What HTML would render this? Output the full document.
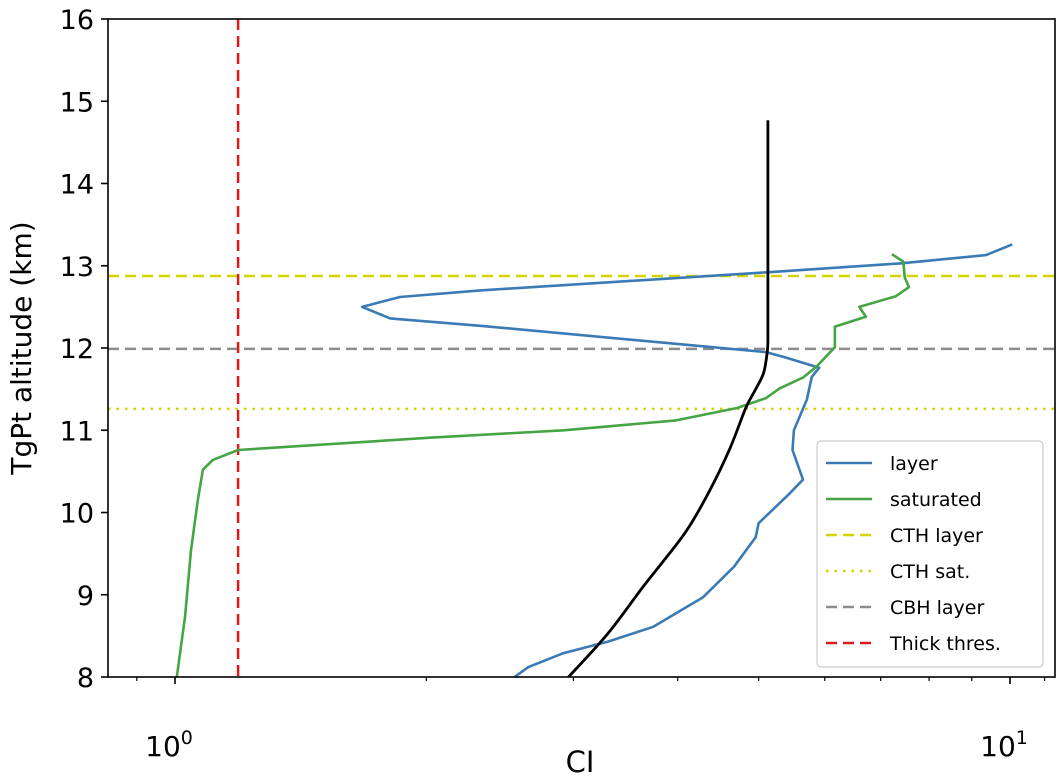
<!DOCTYPE html>
<html><head><meta charset="utf-8"><style>
html,body{margin:0;padding:0;background:#fff;}
svg{display:block;font-family:"DejaVu Sans","Liberation Sans",sans-serif;}
</style></head><body>
<svg id="chart" width="1063" height="777" viewBox="0 0 1063 777" xmlns="http://www.w3.org/2000/svg"></svg>
<script>
const yTicks=[8,9,10,11,12,13,14,15,16];
const xTickMajor=[1,10];
const xTickMajorLabels=["0","1"];
const xTickMinor=[0.9,2,3,4,5,6,7,8,9,11];
const layerCI=[10.06,9.36,7.41,5.12,2.32,1.86,1.675,1.81,2.32,5.10,5.36,5.91,5.79,5.71,5.51,5.49,5.65,5.42,5.00,4.96,4.67,4.29,3.74,3.30,2.92,2.65,2.55];
const layerAlt=[13.26,13.13,13.03,12.92,12.70,12.62,12.50,12.36,12.27,11.95,11.89,11.76,11.65,11.37,11.00,10.76,10.40,10.21,9.87,9.70,9.34,8.97,8.61,8.43,8.29,8.12,8.00];
const satCI=[7.22,7.45,7.48,7.57,7.30,6.60,6.72,6.17,6.17,5.86,5.65,5.30,5.10,4.71,3.98,2.92,2.02,1.19,1.11,1.08,1.065,1.045,1.028,1.005];
const satAlt=[13.14,13.05,12.86,12.74,12.63,12.50,12.38,12.26,12.01,11.77,11.64,11.51,11.39,11.27,11.12,11.00,10.91,10.76,10.64,10.52,10.15,9.54,8.73,8.00];
const refCI=[5.13,5.13,5.12,5.07,4.96,4.83,4.62,4.37,4.08,3.65,3.30,2.96];
const refAlt=[14.77,12.10,11.95,11.70,11.50,11.28,10.78,10.27,9.75,9.12,8.53,8.00];
const cthLayer=12.875, cthSat=11.26, cbhLayer=11.99, thickThres=1.19;
const legendLabels=["layer","saturated","CTH layer","CTH sat.","CBH layer","Thick thres."];

const L=108,R=1055,T=19,B=677;
const xMin=Math.pow(10,-(175-L)/835), xMax=Math.pow(10,(R-175)/835);
function X(v){return L+(Math.log10(v)-Math.log10(xMin))/(Math.log10(xMax)-Math.log10(xMin))*(R-L);}
function Y(a){return B-(a-8)/(16-8)*(B-T);}
const svg=document.getElementById('chart');
const NS="http://www.w3.org/2000/svg";
function mk(tag,attrs,parent){const e=document.createElementNS(NS,tag);for(const k in attrs)e.setAttribute(k,attrs[k]);(parent||svg).appendChild(e);return e;}

const defs=mk('defs',{});const cp=mk('clipPath',{id:'pc'},defs);mk('rect',{x:L,y:T,width:R-L,height:B-T},cp);
const plot=mk('g',{'clip-path':'url(#pc)'});



function hline(a,color,dash,name){const l=mk('line',{x1:L,x2:R,y1:Y(a),y2:Y(a),stroke:color,'stroke-width':2.5,'stroke-dasharray':dash},plot);

}
hline(cthLayer,'#d4d400','11,6','cth-layer-line');
hline(cthSat,'#d4d400','2.5,6','cth-sat-line');
hline(cbhLayer,'#8c8c8c','11,6','cbh-layer-line');
const rl=mk('line',{x1:X(thickThres),x2:X(thickThres),y1:T,y2:B,stroke:'#e01a1a','stroke-width':2.5,'stroke-dasharray':'11,6'},plot);



function series(xs,ys,color,name){const d=xs.map((v,i)=>(i?'L':'M')+X(v).toFixed(1)+','+Y(ys[i]).toFixed(1)).join(' ');
const p=mk('path',{d:d,fill:'none',stroke:color,'stroke-width':2.6,'stroke-linejoin':'round'},plot);

}
function smooth(xs,ys,color,name){const P=xs.map((v,i)=>[X(v),Y(ys[i])]);
let d='M'+P[0][0].toFixed(1)+','+P[0][1].toFixed(1)+' L'+P[1][0].toFixed(1)+','+P[1][1].toFixed(1);
for(let i=1;i<P.length-1;i++){const p0=P[i-1],p1=P[i],p2=P[i+1],p3=P[Math.min(i+2,P.length-1)];
const c1=[p1[0]+(p2[0]-(i>1?p0[0]:p1[0]))/6,p1[1]+(p2[1]-(i>1?p0[1]:p1[1]))/6];
const c2=[p2[0]-(p3[0]-p1[0])/6,p2[1]-(p3[1]-p1[1])/6];
d+=' C'+c1[0].toFixed(1)+','+c1[1].toFixed(1)+' '+c2[0].toFixed(1)+','+c2[1].toFixed(1)+' '+p2[0].toFixed(1)+','+p2[1].toFixed(1);}
const p=mk('path',{d:d,fill:'none',stroke:color,'stroke-width':2.8,'stroke-linejoin':'round'},plot);

}
series(layerCI,layerAlt,'#3a7bb6','layer-series');
series(satCI,satAlt,'#45a545','saturated-series');
smooth(refCI,refAlt,'#000000','reference-curve');

const fr=mk('rect',{x:L,y:T,width:R-L,height:B-T,fill:'none',stroke:'#000','stroke-width':1.6});



yTicks.forEach(t=>{mk('line',{x1:L-7,x2:L,y1:Y(t),y2:Y(t),stroke:'#000','stroke-width':1.6});
const tx=mk('text',{x:L-14,y:Y(t)+10,'text-anchor':'end','font-size':27,fill:'#000'});tx.textContent=t;

});
xTickMinor.forEach(t=>{if(X(t)>=L&&X(t)<=R)mk('line',{x1:X(t),x2:X(t),y1:B,y2:B+4,stroke:'#000','stroke-width':1.2});});
xTickMajor.forEach((t,i)=>{mk('line',{x1:X(t),x2:X(t),y1:B,y2:B+7,stroke:'#000','stroke-width':1.6});
const tx=mk('text',{x:X(t)-6,y:B+79,'text-anchor':'middle','font-size':28,fill:'#000'});tx.textContent='10';


const sp=mk('tspan',{dy:-12,'font-size':19},tx);sp.textContent=xTickMajorLabels[i];});

const xl=mk('text',{x:580,y:772,'text-anchor':'middle','font-size':29,fill:'#000'});xl.textContent='CI';


const yl=mk('text',{x:0,y:0,'text-anchor':'middle','font-size':28,fill:'#000',transform:'translate(31,348) rotate(-90)'});yl.textContent='TgPt altitude (km)';



const lg=mk('g',{});


mk('rect',{x:817,y:441,width:226,height:226,rx:4,fill:'#fff','fill-opacity':0.85,stroke:'#ccc','stroke-width':1.2},lg);
const lcol=['#3a7bb6','#45a545','#d4d400','#d4d400','#8c8c8c','#e01a1a'];
const ldash=['none','none','11,6','2.5,6','11,6','11,6'];
legendLabels.forEach((s,i)=>{const y=463+i*36;
const g=mk('g',{},lg);


mk('line',{x1:826,x2:872,y1:y,y2:y,stroke:lcol[i],'stroke-width':2.6,'stroke-dasharray':ldash[i]},g);
const t=mk('text',{x:890,y:y+7,'font-size':19,fill:'#000'},g);t.textContent=s;});
</script>
</body></html>
